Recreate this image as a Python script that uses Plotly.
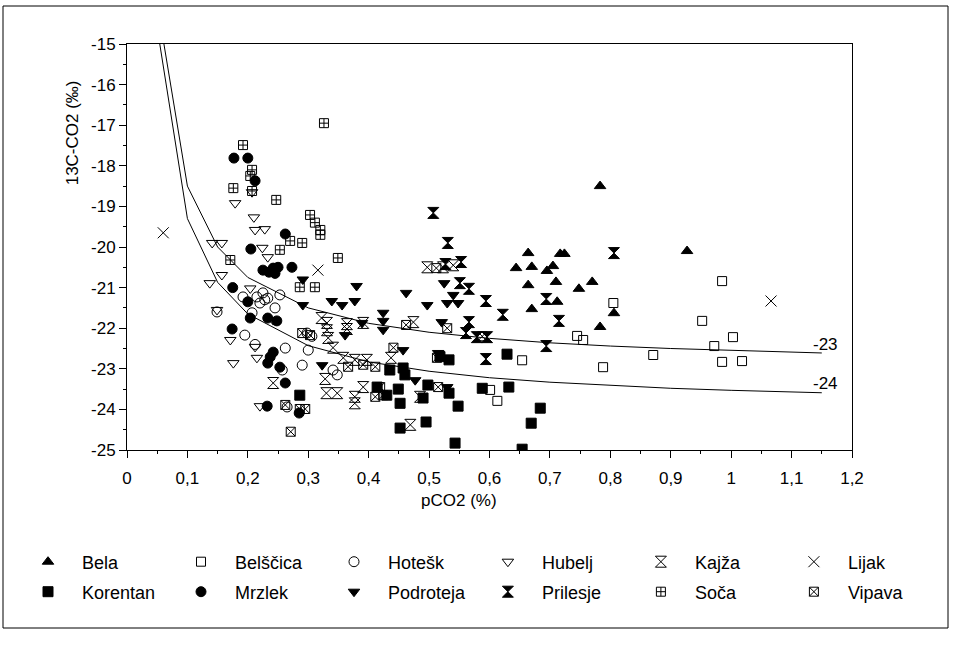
import plotly.graph_objects as go

# ---------------- data ----------------
bela_x = [0.783, 0.664, 0.717, 0.724, 0.644, 0.670, 0.705, 0.695, 0.664, 0.710, 0.748, 0.770, 0.712, 0.670, 0.806, 0.783, 0.927]
bela_y = [-18.50, -20.15, -20.17, -20.17, -20.52, -20.49, -20.47, -20.59, -20.94, -20.86, -21.03, -20.86, -21.35, -21.53, -21.63, -21.97, -20.10]

belscica_x = [0.985, 0.952, 1.003, 0.972, 0.871, 0.985, 1.018, 0.805, 0.745, 0.755, 0.788, 0.654, 0.601, 0.613]
belscica_y = [-20.84, -21.82, -22.22, -22.44, -22.66, -22.83, -22.81, -21.38, -22.19, -22.29, -22.96, -22.79, -23.52, -23.79]

hotesk_x = [0.253, 0.225, 0.228, 0.215, 0.245, 0.195, 0.262, 0.300, 0.290, 0.348, 0.149, 0.207, 0.265, 0.192, 0.220, 0.233, 0.257, 0.298, 0.306, 0.341, 0.212]
hotesk_y = [-21.18, -21.13, -21.30, -21.23, -21.50, -22.17, -22.49, -22.54, -22.91, -23.15, -21.60, -21.62, -23.94, -21.23, -21.38, -21.26, -23.03, -22.12, -22.20, -23.03, -22.40]

hubelj_x = [0.179, 0.207, 0.210, 0.212, 0.228, 0.141, 0.157, 0.224, 0.233, 0.137, 0.157, 0.149, 0.171, 0.212, 0.176, 0.215, 0.220, 0.242, 0.204]
hubelj_y = [-18.92, -18.65, -19.27, -19.58, -19.56, -19.90, -19.90, -20.02, -20.25, -20.89, -20.69, -21.55, -22.29, -22.46, -22.86, -22.73, -23.92, -21.80, -21.02]

kajza_x = [0.322, 0.331, 0.331, 0.333, 0.341, 0.364, 0.364, 0.391, 0.358, 0.377, 0.397, 0.328, 0.330, 0.348, 0.377, 0.377, 0.391, 0.242, 0.437, 0.469, 0.485, 0.497, 0.523, 0.540, 0.474]
kajza_y = [-21.75, -21.87, -22.05, -22.24, -22.48, -21.90, -22.02, -21.87, -22.73, -22.78, -22.78, -23.25, -23.60, -23.60, -23.69, -23.85, -23.45, -23.35, -22.73, -24.38, -23.69, -20.50, -20.50, -20.45, -21.85]

lijak_x = [0.060, 0.316, 1.066]
lijak_y = [-19.65, -20.57, -21.33]

korentan_x = [0.629, 0.435, 0.457, 0.460, 0.533, 0.518, 0.498, 0.533, 0.588, 0.632, 0.449, 0.430, 0.452, 0.490, 0.548, 0.684, 0.669, 0.495, 0.452, 0.543, 0.654, 0.414, 0.286]
korentan_y = [-22.64, -23.03, -22.98, -23.15, -22.78, -22.70, -23.40, -23.60, -23.48, -23.45, -23.50, -23.65, -23.85, -23.72, -23.92, -23.97, -24.34, -24.31, -24.46, -24.83, -24.98, -23.45, -23.65]

mrzlek_x = [0.177, 0.200, 0.212, 0.262, 0.205, 0.225, 0.242, 0.250, 0.235, 0.245, 0.273, 0.175, 0.200, 0.204, 0.233, 0.248, 0.174, 0.242, 0.237, 0.233, 0.253, 0.262, 0.232, 0.285]
mrzlek_y = [-17.81, -17.81, -18.37, -19.68, -20.05, -20.57, -20.52, -20.50, -20.62, -20.65, -20.50, -21.00, -21.35, -21.75, -21.75, -21.82, -22.02, -22.59, -22.71, -22.86, -22.96, -23.35, -23.92, -24.09]

podroteja_x = [0.462, 0.497, 0.525, 0.530, 0.548, 0.540, 0.521, 0.424, 0.424, 0.424, 0.457, 0.477, 0.515, 0.530, 0.339, 0.356, 0.377, 0.389, 0.291, 0.361, 0.323, 0.291, 0.380]
podroteja_y = [-21.13, -21.43, -20.89, -21.38, -21.38, -21.18, -21.85, -21.62, -21.82, -22.04, -22.54, -23.28, -22.61, -23.45, -21.33, -21.43, -21.33, -21.87, -21.43, -22.17, -22.91, -20.80, -20.96]

prilesje_x = [0.507, 0.531, 0.806, 0.527, 0.553, 0.551, 0.566, 0.594, 0.694, 0.622, 0.566, 0.715, 0.561, 0.579, 0.596, 0.694, 0.594]
prilesje_y = [-19.16, -19.90, -20.15, -20.42, -20.37, -20.89, -21.03, -21.33, -21.28, -21.67, -21.85, -21.82, -22.12, -22.22, -22.22, -22.44, -22.76]

soca_x = [0.326, 0.192, 0.207, 0.204, 0.176, 0.207, 0.247, 0.303, 0.311, 0.320, 0.320, 0.270, 0.290, 0.253, 0.171, 0.349, 0.286, 0.311]
soca_y = [-16.95, -17.49, -18.10, -18.25, -18.55, -18.62, -18.84, -19.21, -19.40, -19.58, -19.70, -19.85, -19.90, -20.07, -20.32, -20.27, -20.99, -20.99]

vipava_x = [0.271, 0.262, 0.286, 0.295, 0.290, 0.303, 0.366, 0.391, 0.411, 0.411, 0.441, 0.462, 0.530, 0.513, 0.515, 0.419, 0.424, 0.588, 0.512]
vipava_y = [-24.55, -23.89, -23.99, -23.99, -22.12, -22.17, -22.95, -22.90, -22.95, -23.69, -22.48, -21.92, -22.00, -22.73, -23.45, -23.45, -23.65, -22.20, -20.52]

# mixing curves (soil CO2 end-members -23 and -24 per mil)
curve_x = [0.05, 0.1, 0.15, 0.2, 0.3, 0.4, 0.5, 0.6, 0.7, 0.8, 0.9, 1.0, 1.15]
curve23_y = [-14.0, -18.5, -20.0, -20.75, -21.5, -21.88, -22.1, -22.25, -22.36, -22.44, -22.5, -22.55, -22.61]
curve24_y = [-14.6, -19.3, -20.87, -21.65, -22.43, -22.83, -23.06, -23.22, -23.33, -23.41, -23.48, -23.53, -23.59]

x_ticks = [0, 0.1, 0.2, 0.3, 0.4, 0.5, 0.6, 0.7, 0.8, 0.9, 1.0, 1.1, 1.2]
x_ticktext = ["0", "0,1", "0,2", "0,3", "0,4", "0,5", "0,6", "0,7", "0,8", "0,9", "1", "1,1", "1,2"]
y_ticks = [-25, -24, -23, -22, -21, -20, -19, -18, -17, -16, -15]
y_ticktext = ["-25", "-24", "-23", "-22", "-21", "-20", "-19", "-18", "-17", "-16", "-15"]

FONT = "Liberation Sans, Arial, sans-serif"
BLACK = "black"

fig = go.Figure()

for cy in (curve23_y, curve24_y):
    fig.add_trace(go.Scatter(x=curve_x, y=cy, mode="lines",
                             line=dict(color=BLACK, width=1), showlegend=False, hoverinfo="skip"))

# legend groups: row 1 -> legend (left half) / legend2 (right half); row 2 -> legend3 / legend4
series = [
    ("Bela", bela_x, bela_y, "triangle-up", 10, "legend"),
    ("Belščica", belscica_x, belscica_y, "square-open", 9, "legend"),
    ("Hotešk", hotesk_x, hotesk_y, "circle-open", 10, "legend"),
    ("Hubelj", hubelj_x, hubelj_y, "triangle-down-open", 10, "legend2"),
    ("Kajža", kajza_x, kajza_y, "hourglass-open", 11, "legend2"),
    ("Lijak", lijak_x, lijak_y, "x-thin-open", 11, "legend2"),
    ("Korentan", korentan_x, korentan_y, "square", 10, "legend3"),
    ("Mrzlek", mrzlek_x, mrzlek_y, "circle", 10, "legend3"),
    ("Podroteja", podroteja_x, podroteja_y, "triangle-down", 10, "legend3"),
    ("Prilesje", prilesje_x, prilesje_y, "hourglass", 11, "legend4"),
    ("Soča", soca_x, soca_y, "square-cross-open", 9, "legend4"),
    ("Vipava", vipava_x, vipava_y, "square-x-open", 9, "legend4"),
]
for name, xs, ys, sym, size, lg in series:
    fig.add_trace(go.Scatter(
        x=xs, y=ys, mode="markers", name=name, legend=lg,
        marker=dict(symbol=sym, size=size, color=BLACK, line=dict(color=BLACK, width=1)),
    ))

legend_common = dict(orientation="h", xref="container", yref="container",
                     xanchor="left", yanchor="middle", itemwidth=58,
                     entrywidth=80, entrywidthmode="pixels",
                     font=dict(family=FONT, size=18, color=BLACK),
                     bgcolor="rgba(0,0,0,0)", borderwidth=0, itemclick=False)

ROW1 = (647 - 562) / 647
ROW2 = (647 - 592) / 647
XL = 14 / 955
XR = (14 + 3 * 153.3) / 955

fig.update_layout(
    width=955, height=647,
    margin=dict(l=127, r=103, t=44, b=197),
    paper_bgcolor="white", plot_bgcolor="white",
    font=dict(family=FONT, size=17, color=BLACK),
    showlegend=True,
    legend=dict(x=XL, y=ROW1, **legend_common),
    legend2=dict(x=XR, y=ROW1, **legend_common),
    legend3=dict(x=XL, y=ROW2, **legend_common),
    legend4=dict(x=XR, y=ROW2, **legend_common),
    xaxis=dict(range=[0, 1.2], tickmode="array", tickvals=x_ticks, ticktext=x_ticktext,
               showgrid=False, zeroline=False, showline=True, linecolor=BLACK, linewidth=1,
               mirror=True, ticks="outside", ticklen=7, tickcolor=BLACK, ticklabelstandoff=6,
               minor=dict(tick0=0, dtick=0.05, ticks="outside", ticklen=3, tickcolor=BLACK),
               tickfont=dict(family=FONT, size=17, color=BLACK)),
    yaxis=dict(range=[-25, -15], tickmode="array", tickvals=y_ticks, ticktext=y_ticktext,
               showgrid=False, zeroline=False, showline=True, linecolor=BLACK, linewidth=1,
               mirror=True, ticks="outside", ticklen=7, tickcolor=BLACK,
               minor=dict(tick0=-25, dtick=0.5, ticks="outside", ticklen=3, tickcolor=BLACK),
               tickfont=dict(family=FONT, size=17, color=BLACK)),
    annotations=[
        dict(text="pCO2 (%)", xref="x", yref="paper", x=0.55, y=(450 - 500) / 406,
             xanchor="center", yanchor="middle", showarrow=False,
             font=dict(family=FONT, size=17, color=BLACK)),
        dict(text="13C-CO2 (‰)", xref="paper", yref="y", x=(72 - 127) / 725, y=-17.2,
             xanchor="center", yanchor="middle", textangle=-90, showarrow=False,
             font=dict(family=FONT, size=17, color=BLACK)),
        dict(text="-23", xref="x", yref="y", x=1.132, y=-22.39, xanchor="left", yanchor="middle",
             showarrow=False, font=dict(family=FONT, size=17, color=BLACK)),
        dict(text="-24", xref="x", yref="y", x=1.132, y=-23.35, xanchor="left", yanchor="middle",
             showarrow=False, font=dict(family=FONT, size=17, color=BLACK)),
    ],
    shapes=[
        dict(type="rect", xref="paper", yref="paper",
             x0=(3 - 127) / 725, x1=(948 - 127) / 725,
             y0=(450 - 628) / 406, y1=(450 - 6) / 406,
             line=dict(color=BLACK, width=1), fillcolor="rgba(0,0,0,0)", layer="below"),
    ],
)

fig.write_html("out.html")
